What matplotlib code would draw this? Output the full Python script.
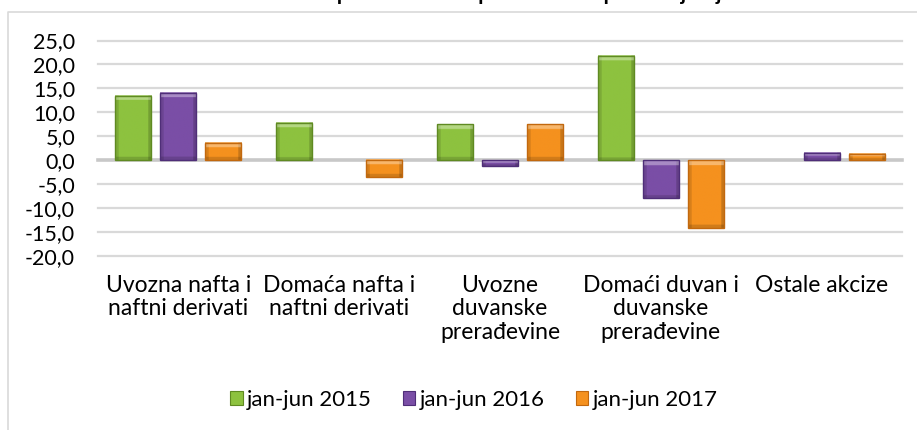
import matplotlib
matplotlib.use("Agg")
import matplotlib.pyplot as plt
from matplotlib.patches import Patch
from matplotlib.lines import Line2D
from matplotlib.ticker import FuncFormatter
from matplotlib.colors import to_rgb
import numpy as np

categories = ["Uvozna nafta i\nnaftni derivati",
              "Domaća nafta i\nnaftni derivati",
              "Uvozne\nduvanske\nprerađevine",
              "Domaći duvan i\nduvanske\nprerađevine",
              "Ostale akcize"]
series_names = ["jan-jun 2015", "jan-jun 2016", "jan-jun 2017"]
v2015 = [13.4, 7.8, 7.5, 21.8, 0.0]
v2016 = [14.1, 0.0, -1.2, -7.9, 1.5]
v2017 = [3.7, -3.6, 7.5, -14.1, 1.3]
yticks = [-20, -15, -10, -5, 0, 5, 10, 15, 20, 25]
title = "Grafikon 4 - Stope rasta akciza po vrstama u periodu jan-jun"

face = ["#8DC23F", "#7A4EA6", "#F5911E"]
edge = ["#5F8A22", "#4F2E78", "#C2680E"]

plt.rcParams['font.family'] = ['Lato', 'DejaVu Sans']

fig = plt.figure(figsize=(9.17, 4.30), dpi=100)
ax = fig.add_axes([98/917, 1-256/430, 804/917, (256-40.5)/430])
ax.set_xlim(-0.5, len(categories) - 0.5)
ax.set_ylim(-20, 25)

px_per_unit_y = (256 - 40.5) / 45.0
px_per_unit_x = 804 / 5.0


def bevel_image(color, wpx, hpx, nr=80, nc=60):
    c = np.array(to_rgb(color))
    img = np.tile(c, (nr, nc, 1))
    # horizontal bevel (sides darker)
    side = min(0.45, 3.5 / max(wpx, 1))
    u = (np.arange(nc) + 0.5) / nc
    colfac = np.ones(nc)
    colfac[u < side] = 0.88
    colfac[u > 1 - side] = 0.82
    img = img * colfac[None, :, None]
    # vertical bevel: light top band, darker bottom band
    top = min(0.45, 5.0 / max(hpx, 1))
    bot = min(0.3, 3.0 / max(hpx, 1))
    v = (np.arange(nr) + 0.5) / nr  # 0 = bottom, 1 = top (origin lower)
    for i, vv in enumerate(v):
        if vv > 1 - top:
            img[i] = img[i] + (1 - img[i]) * 0.35
        elif vv < bot:
            img[i] = img[i] * 0.85
    return np.clip(img, 0, 1)


x = np.arange(len(categories))
offs = [-0.28, 0.0, 0.28]
w = 0.224
for vals, o, fc, ec in zip([v2015, v2016, v2017], offs, face, edge):
    lws = [1.0 if v != 0 else 0.0 for v in vals]
    bars = ax.bar(x + o, vals, width=w, color=fc, edgecolor=ec, linewidth=lws, zorder=3)
    for r in bars:
        h = r.get_height()
        if h == 0:
            continue
        x0, y0 = r.get_xy()
        yb, yt = min(y0, y0 + h), max(y0, y0 + h)
        img = bevel_image(fc, r.get_width() * px_per_unit_x, abs(h) * px_per_unit_y)
        ax.imshow(img, extent=[x0, x0 + r.get_width(), yb, yt], origin='lower',
                  aspect='auto', zorder=3.2, interpolation='bilinear')
        r.set_facecolor('none')
        r.set_zorder(3.5)

ax.set_xlim(-0.5, len(categories) - 0.5)
ax.set_ylim(-20, 25)
for t in yticks:
    if t == 0:
        continue
    ax.axhline(t, color="#D9D9D9", lw=1.6, zorder=1, clip_on=False)
ax.axhline(0, color="#C8C8C8", lw=2.6, zorder=2, clip_on=False)

ax.set_yticks(yticks)
ax.yaxis.set_major_formatter(FuncFormatter(lambda v, p: f"{v:.1f}".replace(".", ",")))
ax.set_xticks(x)
ax.set_xticklabels(categories, linespacing=1.12)
ax.tick_params(axis='y', length=0, pad=16.5, labelsize=15.5, labelcolor="#000000")
ax.tick_params(axis='x', length=0, pad=14, labelsize=16.5, labelcolor="#000000")
for s in ax.spines.values():
    s.set_visible(False)

handles = [Patch(facecolor=fc, edgecolor=ec, linewidth=0.8) for fc, ec in zip(face, edge)]
fig.legend(handles, series_names, loc='center', bbox_to_anchor=(474/917, 1-400/430),
           ncol=3, frameon=False, fontsize=16, handlelength=0.55, handleheight=0.55,
           handletextpad=0.2, columnspacing=1.4, borderpad=0)

fig.add_artist(Line2D([8/917, 8/917, 1.0], [0.0, 1-12/430, 1-12/430],
                      transform=fig.transFigure, color="#D9D9D9", lw=1.2))
fig.text(467/917, 1 - 0.5/430, title, ha='center', va='baseline', fontsize=15,
         fontweight='bold', color="#000000")

fig.savefig("out.png", dpi=100, facecolor="white")
